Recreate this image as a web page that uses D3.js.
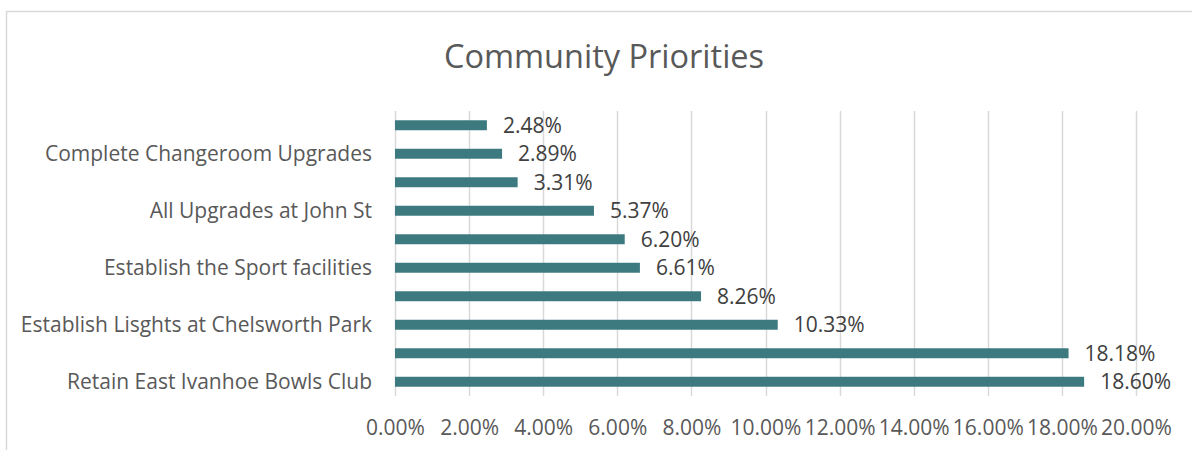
<!DOCTYPE html>
<html>
<head>
<meta charset="utf-8">
<script src="https://cdn.jsdelivr.net/npm/d3@7"></script>
<style>
  html, body { margin: 0; padding: 0; background: #fff; }
  svg { display: block; }
</style>
</head>
<body>
<svg id="chart" width="1192" height="450"></svg>
<script>
// Data (Excel order: first category drawn at the bottom)
const title = "Community Priorities";
const categories = [
  "Retain East Ivanhoe Bowls Club",
  "",
  "Establish Lisghts at Chelsworth Park",
  "",
  "Establish the Sport facilities",
  "",
  "All Upgrades at John St",
  "",
  "Complete Changeroom Upgrades",
  ""
];
const values = [0.1860, 0.1818, 0.1033, 0.0826, 0.0661, 0.0620, 0.0537, 0.0331, 0.0289, 0.0248];
const tickValues = [0, 0.02, 0.04, 0.06, 0.08, 0.10, 0.12, 0.14, 0.16, 0.18, 0.20];

const svg = d3.select("#chart");
const font = "'Open Sans', 'Noto Sans', sans-serif";

// chart border
svg.append("rect")
  .attr("x", 6.5).attr("y", 11.5)
  .attr("width", 1196).attr("height", 480)
  .attr("fill", "#fff")
  .attr("stroke", "#d9d9d9").attr("stroke-width", 1.5);

const plot = { left: 395, right: 1136, top: 111, bottom: 396 };

const x = d3.scaleLinear().domain([0, 0.20]).range([plot.left, plot.right]);
const y = d3.scaleBand()
  .domain(d3.range(categories.length))
  .range([plot.bottom, plot.top])
  .paddingInner(0.65)
  .paddingOuter(0.325);

// title
svg.append("text")
  .attr("x", 604).attr("y", 68)
  .attr("text-anchor", "middle")
  .attr("font-family", font)
  .attr("font-weight", 400)
  .attr("font-size", 32.5)
  .attr("fill", "#595959")
  .text(title);

// gridlines
svg.append("g").selectAll("line")
  .data(tickValues)
  .join("line")
  .attr("x1", d => Math.round(x(d)) + 0.5)
  .attr("x2", d => Math.round(x(d)) + 0.5)
  .attr("y1", plot.top).attr("y2", plot.bottom)
  .attr("stroke", "#d9d9d9").attr("stroke-width", 1.5);

// x axis labels
const xAxis = d3.axisBottom(x)
  .tickValues(tickValues)
  .tickFormat(d3.format(".2%"))
  .tickSize(0)
  .tickPadding(0);
const gx = svg.append("g")
  .attr("transform", `translate(0, 419)`)
  .call(xAxis);
gx.select(".domain").remove();
gx.selectAll("text")
  .attr("font-family", font)
  .attr("font-size", 21)
  .attr("fill", "#595959")
  .attr("dy", "0.76em");

// y axis labels
const yAxis = d3.axisLeft(y)
  .tickFormat(i => categories[i])
  .tickSize(0)
  .tickPadding(0);
const gy = svg.append("g")
  .attr("transform", `translate(372, 0)`)
  .call(yAxis);
gy.select(".domain").remove();
gy.selectAll("text")
  .attr("font-family", font)
  .attr("font-size", 21)
  .attr("fill", "#595959")
  .attr("dy", "0.36em");

// bars
svg.append("g").selectAll("rect")
  .data(values)
  .join("rect")
  .attr("x", x(0))
  .attr("y", (d, i) => y(i))
  .attr("width", d => x(d) - x(0))
  .attr("height", y.bandwidth())
  .attr("fill", "#3c7a80");

// data labels
svg.append("g").selectAll("text")
  .data(values)
  .join("text")
  .attr("x", d => x(d) + 16)
  .attr("y", (d, i) => y(i) + y.bandwidth() / 2)
  .attr("dy", "0.36em")
  .attr("font-family", font)
  .attr("font-size", 21)
  .attr("fill", "#404040")
  .text(d => d3.format(".2%")(d));
</script>
</body>
</html>
